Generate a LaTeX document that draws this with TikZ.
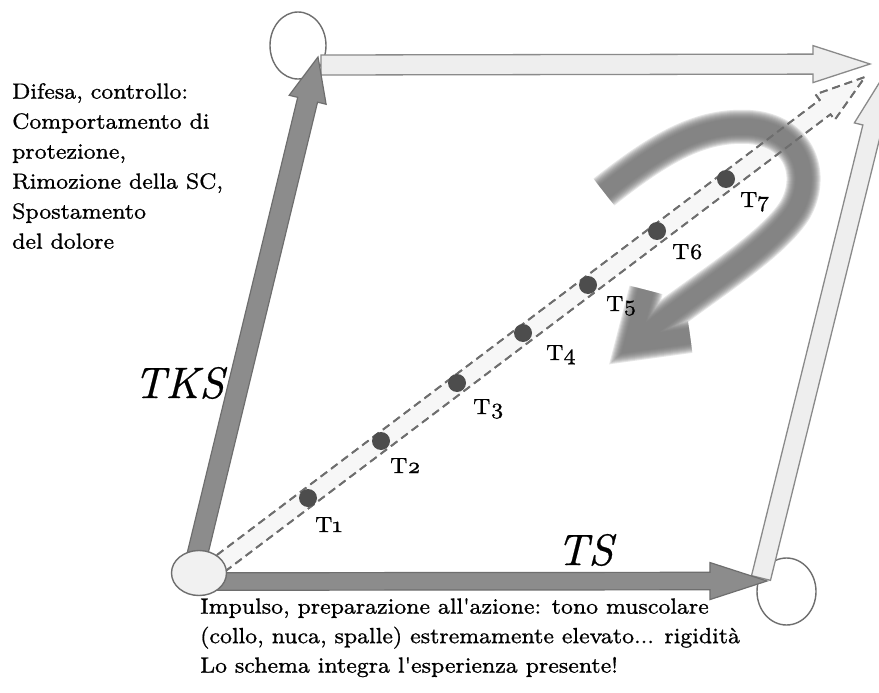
\documentclass[tikz,border=0pt]{standalone}
\usepackage{fontspec}
\setmainfont{lmroman8-regular.otf}[FakeStretch=1.02, FakeBold=0.8, ItalicFont=lmroman8-italic.otf]
\newfontfamily\bigfont{lmroman10-italic.otf}[FakeBold=0.5]
\usetikzlibrary{calc,shapes.geometric}

\definecolor{arrowdark}{HTML}{8C8C8C}
\definecolor{edgedark}{HTML}{6E6E6E}
\definecolor{arrowlight}{HTML}{EEEEEE}
\definecolor{edgelight}{HTML}{8A8A8A}
\definecolor{dotgray}{HTML}{4D4D4D}
\definecolor{loopgray}{HTML}{737373}

% block arrow: style, from, to, half shaft, half head, head length
\newcommand{\blockarrow}[6]{%
  \coordinate (ba-b) at ($(#3)!#6!(#2)$);
  \draw[#1] ($(#2)!#4!90:(#3)$) -- ($(ba-b)!#4!-90:(#2)$) -- ($(ba-b)!#5!-90:(#2)$) -- (#3)
    -- ($(ba-b)!#5!90:(#2)$) -- ($(ba-b)!#4!90:(#2)$) -- ($(#2)!#4!-90:(#3)$) -- cycle;
}

\tikzset{
  corner/.style={ellipse, draw=edgedark, line width=1.4pt, fill=white, inner sep=0pt},
  darkarrow/.style={fill=arrowdark, draw=edgedark, line width=1.2pt},
  lightarrow/.style={fill=arrowlight, draw=edgelight, line width=1.3pt},
  dasharrow/.style={draw=edgedark, line width=1.8pt, dash pattern=on 8pt off 5pt},
  stage/.style={circle, fill=dotgray, minimum size=18pt, inner sep=0pt},
  stagelabel/.style={font=\fontsize{22}{22}\selectfont, inner sep=0pt, anchor=base west},
  note/.style={align=left, inner sep=0pt, anchor=north west},
  axislabel/.style={font=\bigfont\fontsize{44}{44}\selectfont, inner sep=0pt},
}

\begin{document}
\begin{tikzpicture}[x=1pt,y=-1pt]
\useasboundingbox (0,0) rectangle (879,693);
\fill[white] (0,0) rectangle (879,693);

% corners
\node[corner, minimum width=56pt, minimum height=67pt] (tl) at (298,45.5) {};
\node[corner, minimum width=59pt, minimum height=67pt] (br) at (786.5,591.5) {};

% arrow ends
\coordinate (tr) at (870,64);
\coordinate (topFrom) at (321,65);
\coordinate (rightFrom) at (761,578);
\coordinate (rightTo) at (886,72);
\coordinate (tksFrom) at (196,560);
\coordinate (tksTo) at (318,57);
\coordinate (tsFrom) at (215,581.5);
\coordinate (tsTo) at (767,581);
\coordinate (diagFrom) at (212,570);
\coordinate (diagTo) at (865,77);

\blockarrow{lightarrow}{topFrom}{tr}{10pt}{18.5pt}{57pt}
\blockarrow{lightarrow}{rightFrom}{rightTo}{9.75pt}{18.5pt}{57pt}
\blockarrow{darkarrow}{tksFrom}{tksTo}{10.2pt}{19pt}{44pt}
\blockarrow{darkarrow}{tsFrom}{tsTo}{8.75pt}{18.5pt}{57pt}
\blockarrow{dasharrow, fill=arrowlight!45}{diagFrom}{diagTo}{9pt}{16pt}{50pt}

% loop
\coordinate (loopTail) at (604,192);
\coordinate (loopTip) at (632,344);
\coordinate (loopTop) at (646,290);
\coordinate (loopRight) at (690,336);
\foreach \w in {34,32,...,16}
  \draw[loopgray, line width=\w pt, opacity=0.18, line join=miter]
    (loopTail) .. controls (660,148) and (700,124) .. (750,127)
    .. controls (800,131) and (815,175) .. (795,210)
    .. controls (770,250) and (690,295) .. (loopTip)
    (loopTop) -- (loopTip) -- (loopRight);
\blockarrow{dasharrow}{diagFrom}{diagTo}{9pt}{16pt}{50pt}

\node[corner, fill=arrowlight!80, minimum width=55pt, minimum height=45pt] (bl) at (199,573) {};

% stages
\foreach \x/\y/\lx/\ly [count=\i] in {308/498/315/532, 381/441/390/473, 457/383/473/414,
    523/333/546/360, 588/285/606/311, 657/231/672/259, 726/179/740/207}{
  \node[stage] (t\i) at (\x,\y) {};
  \node[stagelabel] (l\i) at (\lx,\ly) {T\oldstylenums{\i}};
}

\node[axislabel] (tks) at (179,383) {TKS};
\node[axislabel] (ts) at (585,550) {TS};

\node[note, font=\fontsize{22}{30}\selectfont] (defence) at (12,83)
  {Difesa, controllo:\\Comportamento di\\protezione,\\Rimozione della SC,\\Spostamento\\del dolore};
\node[note, font=\fontsize{22}{29.5}\selectfont] (impulse) at (200,598)
  {Impulso, preparazione all\textquotesingle azione: tono muscolare\\(collo, nuca, spalle) estremamente elevato... rigidità\\Lo schema integra l\textquotesingle esperienza presente!};
\end{tikzpicture}
\end{document}
